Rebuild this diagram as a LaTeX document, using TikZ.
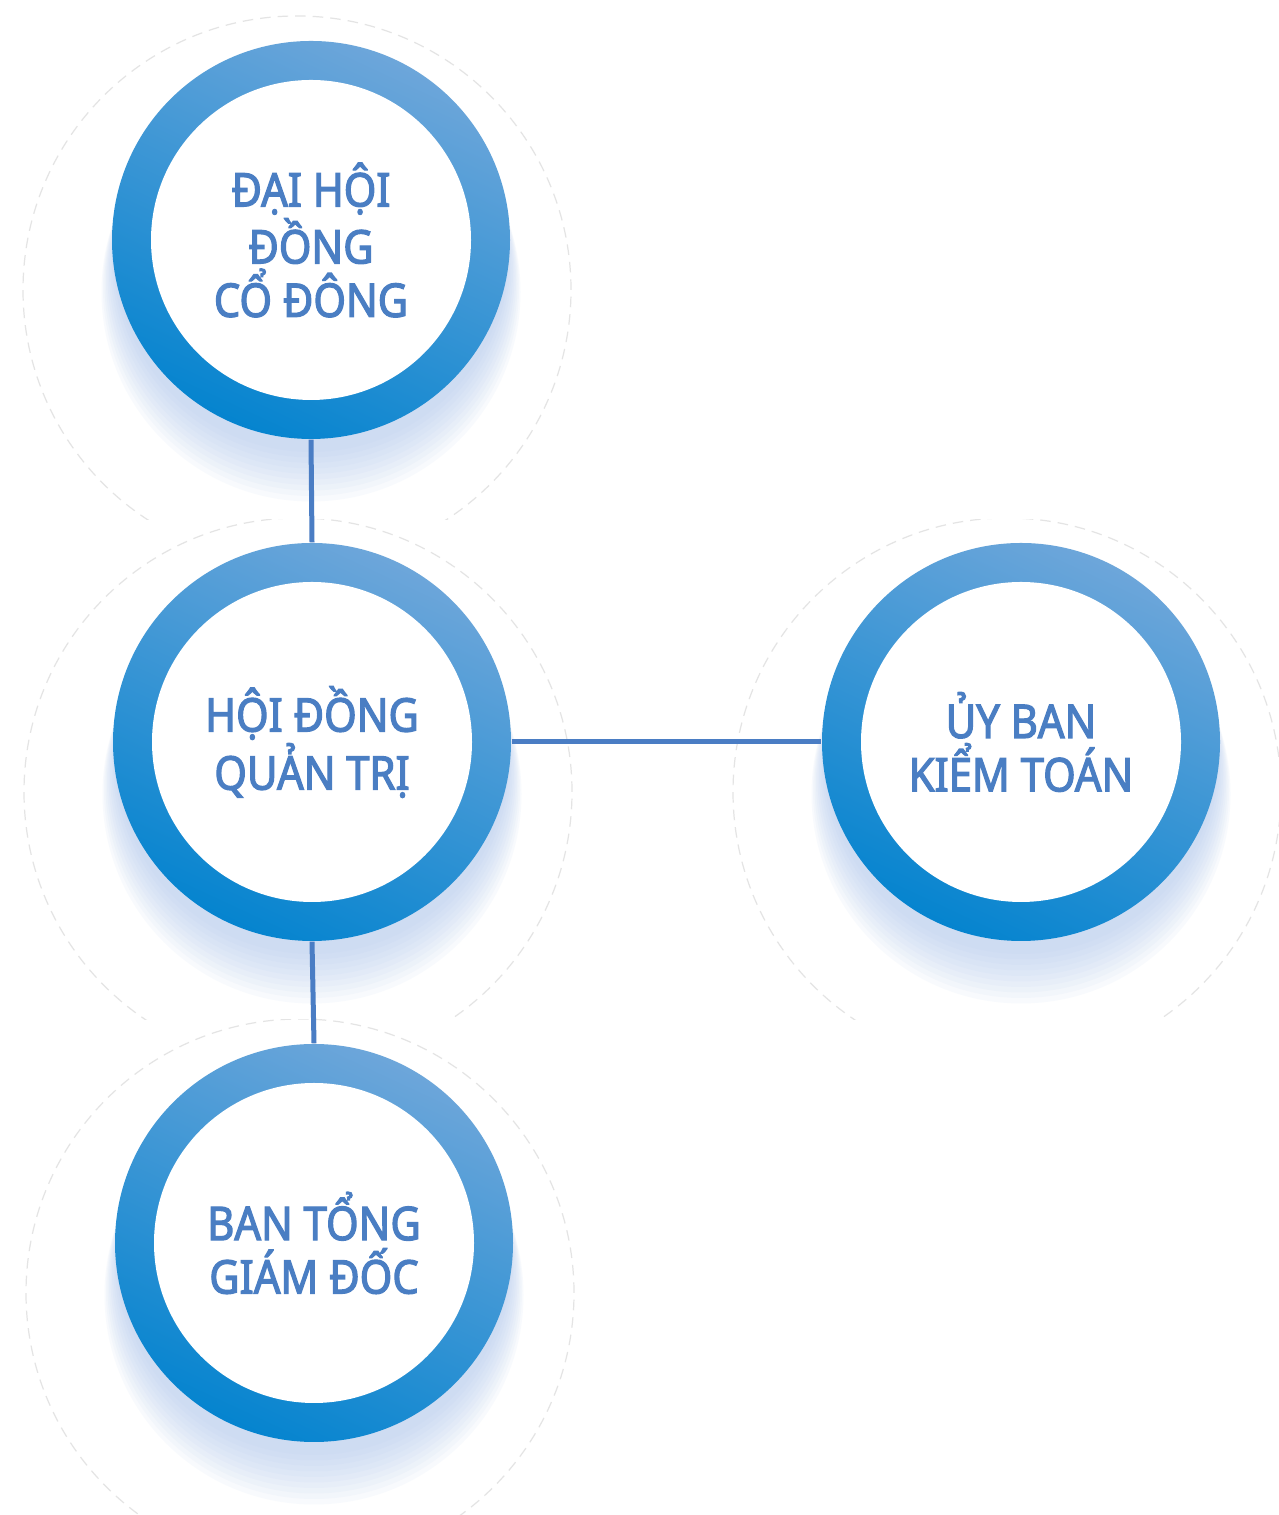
\documentclass[tikz,border=0pt]{standalone}
\usepackage{fontspec}
\newfontfamily\lblfont[FakeStretch=0.9, FakeBold=2.6]{Noto Sans}
\definecolor{ringtop}{HTML}{6DA6DA}
\definecolor{ringbot}{HTML}{0584CF}
\definecolor{shadowcol}{HTML}{A8C2EC}
\definecolor{textblue}{HTML}{4A7EC3}
\definecolor{linkblue}{HTML}{4A7DC4}
\definecolor{halogray}{HTML}{E4E4E4}
\tikzset{
  ring/.style = {circle, inner sep=0pt, minimum size=39.8mm,
    top color=ringtop, bottom color=ringbot, shading angle=-25},
  core/.style = {circle, inner sep=0pt, minimum size=32mm, fill=white,
    text=textblue, align=center,
    font=\lblfont\fontsize{13.2}{15.2}\selectfont},
  link/.style = {draw=linkblue, line width=0.5mm},
  halo/.style = {draw=halogray, line width=0.12mm, dash pattern=on 3pt off 2pt}
}
\begin{document}
\begin{tikzpicture}[x=0.1mm, y=0.1mm]
    \useasboundingbox[fill=white] (0, 0) rectangle (1278, 1515);
    % faint outlines, one per tile
    \foreach \cx/\cy/\ylo/\yhi in {311/1275/995/1515, 312/773/495/995,
        1021/773/495/995, 314/272/0/495} {
        \begin{scope}
            \clip (\cx - 320, \ylo) rectangle (\cx + 320, \yhi);
            \draw[halo] (\cx - 14, \cy - 50) circle (274);
        \end{scope}
    }
    % soft shadows below the rings
    \foreach \cx/\cy in {311/1275, 312/773, 1021/773, 314/272} {
        \foreach \k in {0,...,9} {
            \fill[shadowcol, opacity=0.07] (\cx, \cy - 16 - 4*\k) circle (196 + 1.5*\k);
        }
    }
    % rings
    \node[ring] (dhcd) at (311, 1275) {};
    \node[ring] (hdqt) at (312, 773) {};
    \node[ring] (ubkt) at (1021, 773) {};
    \node[ring] (btgd) at (314, 272) {};
    % white cores with labels
    \node[core] (dhcd-in) at (dhcd) {ĐẠI HỘI\\ĐỒNG\\CỔ ĐÔNG};
    \node[core] (hdqt-in) at (hdqt) {HỘI ĐỒNG\\QUẢN TRỊ};
    \node[core] (ubkt-in) at (ubkt) {ỦY BAN\\KIỂM TOÁN};
    \node[core] (btgd-in) at (btgd) {BAN TỔNG\\GIÁM ĐỐC};
    % connectors
    \draw[link] (dhcd.south) -- (hdqt.north);
    \draw[link] (hdqt.east) -- (ubkt.west);
    \draw[link] (hdqt.south) -- (btgd.north);
\end{tikzpicture}
\end{document}
